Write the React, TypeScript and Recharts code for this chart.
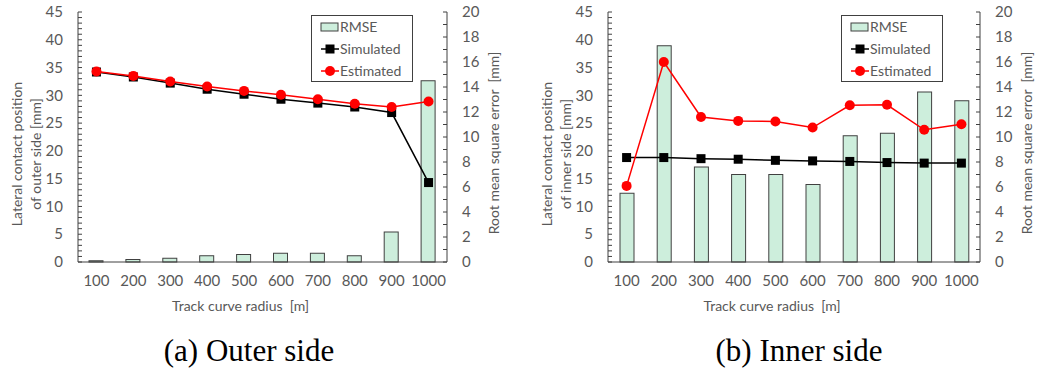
import { Bar, ComposedChart, Legend, Line, XAxis, YAxis } from "recharts";

const radii = [100, 200, 300, 400, 500, 600, 700, 800, 900, 1000];

const outerSimulated = [34.2, 33.3, 32.2, 31.1, 30.2, 29.3, 28.6, 27.9, 26.9, 14.3];
const outerEstimated = [34.3, 33.5, 32.5, 31.6, 30.8, 30.1, 29.3, 28.5, 27.9, 28.9];
const outerRmse = [0.1, 0.2, 0.3, 0.5, 0.6, 0.7, 0.7, 0.5, 2.4, 14.5];

const innerSimulated = [18.8, 18.8, 18.6, 18.5, 18.3, 18.2, 18.1, 17.9, 17.8, 17.8];
const innerEstimated = [13.7, 36.0, 26.1, 25.4, 25.3, 24.2, 28.2, 28.3, 23.8, 24.8];
const innerRmse = [5.5, 17.3, 7.6, 7.0, 7.0, 6.2, 10.1, 10.3, 13.6, 12.9];

const positionTicks = Array.from({ length: 46 }, (_, i) => i);
const rmseTicks = Array.from({ length: 21 }, (_, i) => i);

const FONT = "Lato, 'Open Sans', sans-serif";
const TEXT = "#595959";
const AXIS = "#404040";
const BAR_FILL = "#cdeedc";

const makeRows = (sim: number[], est: number[], rmse: number[]) =>
  radii.map((r, i) => ({ radius: r, simulated: sim[i], estimated: est[i], rmse: rmse[i] }));

const SquareDot = (props: any) => {
  const { cx, cy, index } = props;
  if (cx == null || cy == null) return <g key={index} />;
  return <rect key={index} x={cx - 4.5} y={cy - 4.5} width={9} height={9} fill="#000" />;
};

// plain square-cornered bar
const BarRect = (props: any) => {
  const { x, y, width, height } = props;
  if (x == null || height == null) return <g />;
  return <rect x={x} y={y} width={width} height={height} fill={BAR_FILL} stroke={AXIS} strokeWidth={1} />;
};

// ticks drawn inward, labels only on major steps
const LeftTick = (props: any) => {
  const { x, y, payload } = props;
  const v = payload.value;
  return (
    <g>
      <line x1={x + 15} x2={x + 19} y1={y} y2={y} stroke={AXIS} />
      {v % 5 === 0 && (
        <text x={x} y={y} dy="0.35em" textAnchor="end" fill={TEXT} fontSize={15} fontFamily={FONT}>
          {v}
        </text>
      )}
    </g>
  );
};

const RightTick = (props: any) => {
  const { x, y, payload } = props;
  const v = payload.value;
  return (
    <g>
      <line x1={x - 15} x2={x - 19} y1={y} y2={y} stroke={AXIS} />
      {v % 2 === 0 && (
        <text x={x} y={y} dy="0.35em" textAnchor="start" fill={TEXT} fontSize={15} fontFamily={FONT}>
          {v}
        </text>
      )}
    </g>
  );
};

const LegendBox = () => (
  <div
    style={{
      width: 100,
      height: 65,
      border: `1px solid ${AXIS}`,
      background: "#fff",
      fontFamily: FONT,
      fontSize: 14,
      color: TEXT,
    }}
  >
    <svg width={100} height={65}>
      <rect x={9} y={7} width={17} height={8} fill={BAR_FILL} stroke={AXIS} />
      <text x={28} y={11} dy="0.35em" fill={TEXT} fontSize={14}>RMSE</text>
      <line x1={9} x2={27} y1={33} y2={33} stroke="#000" strokeWidth={1.5} />
      <rect x={13.5} y={28.5} width={9} height={9} fill="#000" />
      <text x={28} y={33} dy="0.35em" fill={TEXT} fontSize={14}>Simulated</text>
      <line x1={9} x2={27} y1={55} y2={55} stroke="#ff0000" strokeWidth={1.5} />
      <circle cx={18} cy={55} r={5} fill="#ff0000" />
      <text x={28} y={55} dy="0.35em" fill={TEXT} fontSize={14}>Estimated</text>
    </svg>
  </div>
);

interface PanelProps {
  rows: { radius: number; simulated: number; estimated: number; rmse: number }[];
  sideLabel: string;
  caption: string;
  left: number;
  width: number;
  rightWidth: number;
  captionCenter: number;
}

function Panel({ rows, sideLabel, caption, left, width, rightWidth, captionCenter }: PanelProps) {
  return (
    <div style={{ position: "absolute", left, top: 0, width, height: 372 }}>
      <ComposedChart
        width={width}
        height={330}
        data={rows}
        margin={{ top: 12, right: 0, bottom: 0, left: 0 }}
      >
        <XAxis
          dataKey="radius"
          height={68}
          tickLine={false}
          tickSize={0}
          tickMargin={13}
          interval={0}
          axisLine={{ stroke: AXIS }}
          tick={{ fill: TEXT, fontSize: 15, fontFamily: FONT }}
          label={{
            content: ({ viewBox }: any) => (
              <text
                x={viewBox.x + viewBox.width / 2 - 22}
                y={viewBox.y + 44}
                dy="0.35em"
                textAnchor="middle"
                fill={TEXT}
                fontSize={14}
                fontFamily={FONT}
                style={{ whiteSpace: "pre" }}
              >
                Track curve radius  [m]
              </text>
            ),
          }}
        />
        <XAxis xAxisId="top" orientation="top" height={0} tick={false} tickLine={false} axisLine={{ stroke: AXIS }} />
        <YAxis
          yAxisId="pos"
          width={78}
          domain={[0, 45]}
          ticks={positionTicks}
          interval={0}
          tickSize={0}
          tickMargin={15}
          tickLine={false}
          axisLine={{ stroke: AXIS }}
          tick={<LeftTick />}
          label={{
            content: ({ viewBox }: any) => {
              const cy = viewBox.y + viewBox.height / 2 + 17;
              const x1 = viewBox.x + viewBox.width - 62;
              const x2 = viewBox.x + viewBox.width - 43;
              return (
                <g fill={TEXT} fontSize={14} fontFamily={FONT}>
                  <text x={x1} y={cy} textAnchor="middle" dominantBaseline="central" transform={`rotate(-90, ${x1}, ${cy})`}>
                    Lateral contact position
                  </text>
                  <text x={x2} y={cy} textAnchor="middle" dominantBaseline="central" transform={`rotate(-90, ${x2}, ${cy})`}>
                    {`of ${sideLabel} side [mm]`}
                  </text>
                </g>
              );
            },
          }}
        />
        <YAxis
          yAxisId="rmse"
          orientation="right"
          width={rightWidth}
          domain={[0, 20]}
          ticks={rmseTicks}
          interval={0}
          tickSize={0}
          tickMargin={15}
          tickLine={false}
          axisLine={{ stroke: AXIS }}
          tick={<RightTick />}
          label={{
            content: ({ viewBox }: any) => {
              const cy = viewBox.y + viewBox.height / 2 + 6;
              const x = viewBox.x + 46;
              return (
                <text
                  x={x}
                  y={cy}
                  textAnchor="middle"
                  dominantBaseline="central"
                  transform={`rotate(-90, ${x}, ${cy})`}
                  fill={TEXT}
                  fontSize={14}
                  fontFamily={FONT}
                  style={{ whiteSpace: "pre" }}
                >
                  Root mean square error  [mm]
                </text>
              );
            },
          }}
        />
        <Legend
          layout="vertical"
          align="center"
          verticalAlign="middle"
          wrapperStyle={{ top: 15, left: 311, width: 102, height: 67 }}
          content={() => <LegendBox />}
        />
        <Bar
          yAxisId="rmse"
          dataKey="rmse"
          name="RMSE"
          barSize={14}
          fill={BAR_FILL}
          stroke={AXIS}
          shape={<BarRect />}
          isAnimationActive={false}
        />
        <Line
          yAxisId="pos"
          dataKey="simulated"
          name="Simulated"
          stroke="#000"
          strokeWidth={1.5}
          dot={<SquareDot />}
          activeDot={false}
          isAnimationActive={false}
        />
        <Line
          yAxisId="pos"
          dataKey="estimated"
          name="Estimated"
          stroke="#ff0000"
          strokeWidth={1.5}
          dot={{ r: 5, fill: "#ff0000", stroke: "#ff0000", strokeWidth: 0 }}
          activeDot={false}
          isAnimationActive={false}
        />
      </ComposedChart>
      <div
        style={{
          position: "absolute",
          left: captionCenter - 150,
          width: 300,
          top: 333,
          textAlign: "center",
          fontFamily: "'Liberation Serif', 'Times New Roman', serif",
          fontSize: 31,
          lineHeight: "36px",
          color: "#000",
        }}
      >
        {caption}
      </div>
    </div>
  );
}

export default function App() {
  return (
    <div style={{ position: "absolute", left: 0, top: 0, width: 1037, height: 372, background: "#fff" }}>
      <Panel
        rows={makeRows(outerSimulated, outerEstimated, outerRmse)}
        sideLabel="outer"
        caption="(a) Outer side"
        left={0}
        width={530}
        rightWidth={83}
        captionCenter={249}
      />
      <Panel
        rows={makeRows(innerSimulated, innerEstimated, innerRmse)}
        sideLabel="inner"
        caption="(b) Inner side"
        left={530}
        width={507}
        rightWidth={57}
        captionCenter={269}
      />
    </div>
  );
}
